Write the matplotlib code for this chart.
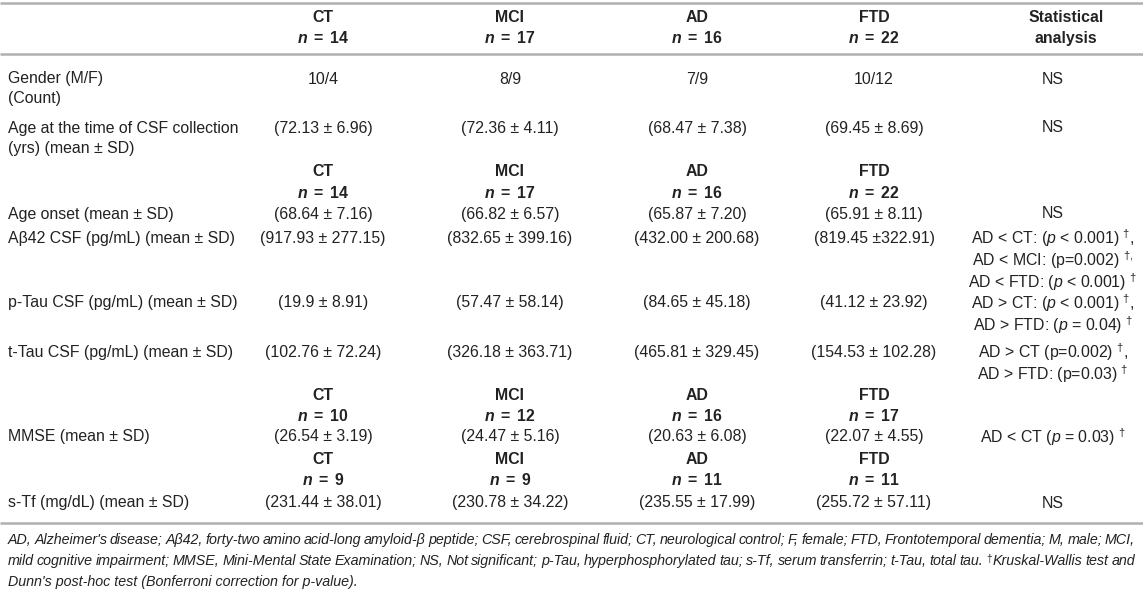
import matplotlib.pyplot as plt

plt.rcParams['font.family'] = ['Liberation Sans', 'DejaVu Sans']
plt.rcParams['mathtext.fontset'] = 'custom'
plt.rcParams['mathtext.rm'] = 'Liberation Sans'
plt.rcParams['mathtext.it'] = 'Liberation Sans:italic'
plt.rcParams['mathtext.bf'] = 'Liberation Sans:bold'
plt.rcParams['mathtext.bfit'] = 'Liberation Sans:bold:italic'

# table data
groups = ['CT', 'MCI', 'AD', 'FTD']
n_main = [14, 17, 16, 22]
n_mmse = [10, 12, 16, 17]
n_stf = [9, 9, 11, 11]

gender = ['10/4', '8/9', '7/9', '10/12']
age_csf = ['(72.13 ± 6.96)', '(72.36 ± 4.11)', '(68.47 ± 7.38)', '(69.45 ± 8.69)']
age_onset = ['(68.64 ± 7.16)', '(66.82 ± 6.57)', '(65.87 ± 7.20)', '(65.91 ± 8.11)']
abeta = ['(917.93 ± 277.15)', '(832.65 ± 399.16)', '(432.00 ± 200.68)', '(819.45 ±322.91)']
ptau = ['(19.9 ± 8.91)', '(57.47 ± 58.14)', '(84.65 ± 45.18)', '(41.12 ± 23.92)']
ttau = ['(102.76 ± 72.24)', '(326.18 ± 363.71)', '(465.81 ± 329.45)', '(154.53 ± 102.28)']
mmse = ['(26.54 ± 3.19)', '(24.47 ± 5.16)', '(20.63 ± 6.08)', '(22.07 ± 4.55)']
stf = ['(231.44 ± 38.01)', '(230.78 ± 34.22)', '(235.55 ± 17.99)', '(255.72 ± 57.11)']

stats_gender = ['NS']
stats_age = ['NS']
stats_onset = ['NS']
stats_abeta = [r'AD < CT: ($\it{p}$ < 0.001) $^†$,',
               r'AD < MCI: (p=0.002) $^{†,}$',
               r'AD < FTD: ($\it{p}$ < 0.001) $^†$']
stats_ptau = [r'AD > CT: ($\it{p}$ < 0.001) $^†$,',
              r'AD > FTD: ($\it{p}$ = 0.04) $^†$']
stats_ttau = [r'AD > CT (p=0.002) $^†$,',
              r'AD > FTD: (p=0.03) $^†$']
stats_mmse = [r'AD < CT ($\it{p}$ = 0.03) $^†$']
stats_stf = ['NS']

footnote = [
    "AD, Alzheimer's disease; Aβ42, forty-two amino acid-long amyloid-β peptide; CSF, cerebrospinal fluid; "
    "CT, neurological control; F, female; FTD, Frontotemporal dementia; M, male; MCI,",
    "mild cognitive impairment; MMSE, Mini-Mental State Examination; NS, Not significant; p-Tau, "
    "hyperphosphorylated tau; s-Tf, serum transferrin; t-Tau, total tau. †Kruskal-Wallis test and",
    "Dunn's post-hoc test (Bonferroni correction for p-value).",
]

W, H = 1143, 592
fig = plt.figure(figsize=(W / 100, H / 100), dpi=100)
ax = fig.add_axes([0, 0, 1, 1])
ax.set_xlim(0, W)
ax.set_ylim(H, 0)
ax.axis('off')

col_x = [323, 510, 697, 874]
stat_x = 1053
head_x = 1066
label_x = 8
fs = 11.4
txt_color = '#222222'
line_color = '#b0b0b0'


def cell(x, y, s, **kw):
    ax.text(x, y, s, ha='center', va='center', fontsize=fs, color=txt_color, **kw)


def label(y, s):
    ax.text(label_x, y, s, ha='left', va='center', fontsize=fs, color=txt_color)


def header(y1, y2, ns):
    for x, g, n in zip(col_x, groups, ns):
        cell(x, y1, g, fontweight='bold')
        cell(x, y2, r'$\mathbfit{n}\,$ = $\,$%d' % n, fontweight='bold')


def row(y, values):
    for x, v in zip(col_x, values):
        cell(x, y, v)


def stats(y0, lines, step=22):
    for i, s in enumerate(lines):
        cell(stat_x, y0 + i * step, s)


def width_of(t, renderer):
    bb = t.get_window_extent(renderer)
    inv = ax.transData.inverted()
    return inv.transform((bb.x1, bb.y0))[0] - inv.transform((bb.x0, bb.y0))[0]


def justified(y, s, x0, x1, size):
    """Spread the words of s so the line fills x0..x1"""
    renderer = fig.canvas.get_renderer()
    kw = dict(va='center', ha='left', fontsize=size, style='italic', color=txt_color)
    groups_ = []
    for w in s.split(' '):
        parts = []
        if w.startswith('†'):
            parts.append(ax.text(0, y, r'$^†$', **kw))
            w = w[1:]
        parts.append(ax.text(0, y, w, **kw))
        groups_.append([(t, width_of(t, renderer)) for t in parts])
    total = sum(wd for g in groups_ for _, wd in g)
    gap = (x1 - x0 - total) / (len(groups_) - 1)
    x = x0
    for g in groups_:
        for t, wd in g:
            t.set_x(x)
            x += wd
        x += gap


# rules
for y in [3, 54, 523]:
    ax.plot([0, W], [y, y], color=line_color, lw=1.8, solid_capstyle='butt')

# top header
header(17, 38, n_main)
cell(head_x, 17, 'Statistical', fontweight='bold')
cell(head_x, 38, 'analysis', fontweight='bold')

label(79, 'Gender (M/F)')
label(99, '(Count)')
row(79, gender)
stats(79, stats_gender)

label(128, 'Age at the time of CSF collection')
label(148, '(yrs) (mean ± SD)')
row(128, age_csf)
stats(128, stats_age)

header(172, 193, n_main)

label(214, 'Age onset (mean ± SD)')
row(214, age_onset)
stats(214, stats_onset)

label(238, 'Aβ42 CSF (pg/mL) (mean ± SD)')
row(238, abeta)
stats(238, stats_abeta)

label(303, 'p-Tau CSF (pg/mL) (mean ± SD)')
row(303, ptau)
stats(303, stats_ptau)

label(352, 't-Tau CSF (pg/mL) (mean ± SD)')
row(352, ttau)
stats(352, stats_ttau)

header(395, 416, n_mmse)
label(437, 'MMSE (mean ± SD)')
row(437, mmse)
stats(437, stats_mmse)

header(459, 480, n_stf)
label(503, 's-Tf (mg/dL) (mean ± SD)')
row(503, stf)
stats(503, stats_stf)

fn_size = 10.3
justified(540, footnote[0], label_x, 1135, fn_size)
justified(561, footnote[1], label_x, 1135, fn_size)
ax.text(label_x, 582, footnote[2], ha='left', va='center', fontsize=fn_size,
        style='italic', color=txt_color)

fig.savefig('out.png', dpi=100)
